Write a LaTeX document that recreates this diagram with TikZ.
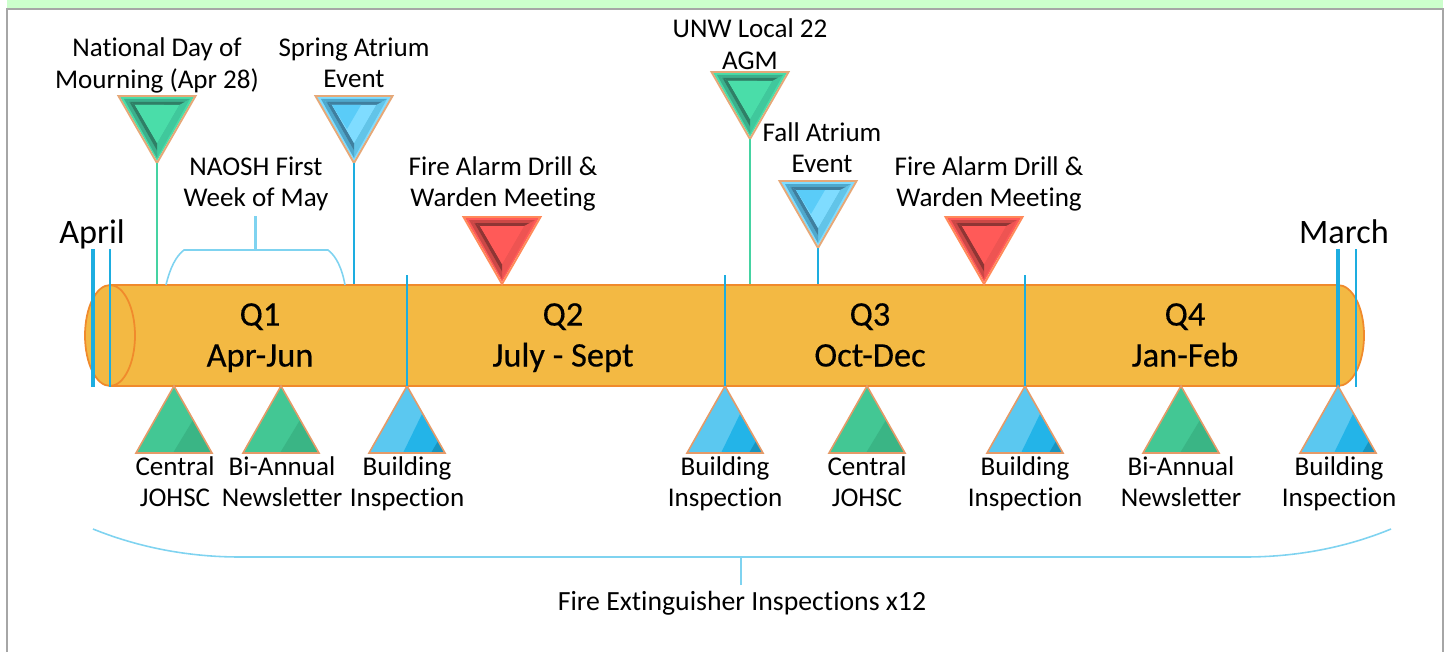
\documentclass[tikz,border=0pt]{standalone}
\usepackage{fontspec}
\setmainfont{Carlito}[Ligatures=NoCommon]
\newfontfamily\quarterfont{Carlito}[Ligatures=NoCommon, FakeBold=0.35]
\usetikzlibrary{shapes.geometric}
\definecolor{greenRim}{HTML}{4ADDA9}
\definecolor{greenDark}{HTML}{2F7F66}
\definecolor{greenMid}{HTML}{3CB08C}
\definecolor{greenSide}{HTML}{40C89C}
\definecolor{greenSpot}{HTML}{4ADDA9}
\definecolor{greenEdge}{HTML}{E5A878}
\definecolor{blueRim}{HTML}{7FDCFF}
\definecolor{blueDark}{HTML}{3F7F9F}
\definecolor{blueMid}{HTML}{4FA8CC}
\definecolor{blueSide}{HTML}{62C4E8}
\definecolor{blueSpot}{HTML}{5ACCF8}
\definecolor{blueEdge}{HTML}{E5A878}
\definecolor{redRim}{HTML}{FF5A58}
\definecolor{redDark}{HTML}{8F3534}
\definecolor{redMid}{HTML}{CC4846}
\definecolor{redSide}{HTML}{EE5452}
\definecolor{redSpot}{HTML}{FF5A58}
\definecolor{redEdge}{HTML}{FF8A5A}
\definecolor{greenUp}{HTML}{43C794}
\definecolor{greenUpDark}{HTML}{3AB585}
\definecolor{blueUp}{HTML}{5BC8F0}
\definecolor{blueUpMid}{HTML}{23B4E8}
\definecolor{blueUpDark}{HTML}{1795C0}
\definecolor{barFill}{HTML}{F3B943}
\definecolor{barLine}{HTML}{F08A2C}
\definecolor{triLine}{HTML}{E59A68}
\definecolor{tickBlue}{HTML}{1DADE0}
\definecolor{tickGreen}{HTML}{45D3A2}
\definecolor{braceBlue}{HTML}{7FD3F0}
\definecolor{frameGrey}{HTML}{A6A6A6}
\definecolor{bandGreen}{HTML}{CCFFCC}
\begin{document}
\begin{tikzpicture}[x=0.02cm, y=-0.02cm,
    strutStyle/.style={execute at begin node=\strut, execute at end node=\strut},
    labelStyle/.style={strutStyle, align=center, font=\fontsize{15.4}{18}\selectfont, inner sep=0pt},
    monthStyle/.style={strutStyle, font=\fontsize{19.5}{22}\selectfont, inner sep=0pt},
    quarterStyle/.style={strutStyle, align=center, font=\quarterfont\fontsize{19.6}{23.3}\selectfont, inner sep=0pt},
    barStyle/.style={rectangle, draw=barLine, fill=barFill, line width=1pt, minimum width=24.56cm, minimum height=2.02cm, inner sep=0pt},
    endStyle/.style={ellipse, draw=barLine, fill=barFill, line width=1pt, minimum width=1cm, minimum height=2.02cm, inner sep=0pt},
    tickThin/.style={draw=tickBlue, line width=1.15pt},
    tickThick/.style={draw=tickBlue, line width=1.8pt},
    tickEvent/.style={draw=tickGreen, line width=1.15pt},
    braceStyle/.style={draw=braceBlue, line width=0.9pt},
    downTri/.pic={
        \fill[#1Rim] (-37,1) -- (37,1) -- (0,65) -- cycle;
        \fill[#1Side] (33,3) -- (0,62) -- (0,47) -- (22,9) -- cycle;
        \fill[#1Mid] (-33,3) -- (0,62) -- (0,54.5) -- (-27.5,6) -- cycle;
        \fill[#1Dark] (-27.5,6) -- (0,54.5) -- (0,47) -- (-22,9) -- cycle;
        \fill[#1Mid] (-33,3) -- (33,3) -- (27.5,6) -- (-27.5,6) -- cycle;
        \fill[#1Dark] (-27.5,6) -- (27.5,6) -- (22,9) -- (-22,9) -- cycle;
        \fill[#1Rim] (-22,9) -- (22,9) -- (0,47) -- cycle;
        \fill[#1Spot] (-22,9) -- (7,9) -- (-7,33) -- cycle;
        \draw[#1Edge, line width=1.1pt] (-38.5,0) -- (38.5,0) -- (0,67) -- cycle;
        \coordinate (-tip) at (0,67);
    },
    upGreen/.pic={
        \fill[greenUp] (-38,67) -- (0,0) -- (38,67) -- cycle;
        \fill[greenUpDark] (-1,67) -- (19,34) -- (38,67) -- cycle;
        \draw[triLine, line width=0.9pt] (-38,67) -- (0,0) -- (38,67) -- cycle;
        \coordinate (-top) at (0,0);
    },
    upBlue/.pic={
        \fill[blueUp] (-38,67) -- (0,0) -- (38,67) -- cycle;
        \fill[blueUpMid] (-4,67) -- (15,28) -- (38,67) -- cycle;
        \fill[blueUpDark] (24,67) -- (31,55) -- (38,67) -- cycle;
        \draw[triLine, line width=0.9pt] (-38,67) -- (0,0) -- (38,67) -- cycle;
        \coordinate (-top) at (0,0);
    }]

\useasboundingbox (0,0) rectangle (1449,652);
\fill[bandGreen] (7,0) rectangle (1443,8);
\draw[frameGrey, line width=1.2pt] (7,652) -- (7,9) -- (1443,9) -- (1443,652);

\node[endStyle, minimum width=1.04cm] (barEndR) at (1338, 335.5) {};
\node[barStyle] (bar) at (724, 335.5) {};
\node[endStyle] (barEndL) at (110, 335.5) {};

\node[quarterStyle] (q1) at (260, 341) {Q1\\Apr-Jun};
\node[quarterStyle] (q2) at (563, 341) {Q2\\July - Sept};
\node[quarterStyle] (q3) at (870, 341) {Q3\\Oct-Dec};
\node[quarterStyle] (q4) at (1185, 341) {Q4\\Jan-Feb};

\node[monthStyle] (april) at (92, 236) {April};
\node[monthStyle] (march) at (1344, 236) {March};

\coordinate (aprilA) at (93, 249);
\coordinate (aprilB) at (110, 249);
\coordinate (marchA) at (1338, 249);
\coordinate (marchB) at (1356, 249);
\draw[tickThick] (aprilA) -- (aprilA |- bar.south);
\draw[tickThin] (aprilB) -- (aprilB |- bar.south);
\draw[tickThick] (marchA) -- (marchA |- bar.south);
\draw[tickThin] (marchB) -- (marchB |- bar.south);

\pic (natday) at (157, 96) {downTri=green};
\pic (spring) at (354, 96) {downTri=blue};
\pic (drillA) at (502, 217) {downTri=red};
\pic (unw) at (750, 72) {downTri=green};
\pic (fall) at (818, 181) {downTri=blue};
\pic (drillB) at (984, 217) {downTri=red};

\draw[tickEvent] (natday-tip) -- (natday-tip |- bar.north);
\draw[tickThin] (spring-tip) -- (spring-tip |- bar.north);
\draw[tickEvent] (unw-tip) -- (unw-tip |- bar.north);
\draw[tickThin] (fall-tip) -- (fall-tip |- bar.north);

\node[labelStyle] (natdayText) at (157, 67.6) {National Day of\\Mourning (Apr 28)};
\node[labelStyle] (springText) at (354, 67.6) {Spring Atrium\\Event};
\node[labelStyle] (naoshText) at (256, 186.5) {NAOSH First\\Week of May};
\node[labelStyle] (drillAText) at (503, 186.5) {Fire Alarm Drill \&\\Warden Meeting};
\node[labelStyle] (unwText) at (750, 48.6) {UNW Local 22\\AGM};
\node[labelStyle] (fallText) at (822, 152.5) {Fall Atrium\\Event};
\node[labelStyle] (drillBText) at (989, 186.5) {Fire Alarm Drill \&\\Warden Meeting};

\coordinate (naoshStem) at (255.5, 216);
\coordinate (naoshJoin) at (255.5, 250);
\coordinate (naoshL) at (166, 285);
\coordinate (naoshR) at (345, 285);
\draw[braceStyle, line width=1.2pt] (naoshStem) -- (naoshJoin);
\draw[braceStyle] (naoshL) .. controls (170, 268) and (176, 256) .. (184, 250) -- (naoshJoin) -- (328, 250) .. controls (336, 256) and (342, 268) .. (naoshR);

\pic (centralA) at (174, 386) {upGreen};
\pic (newsA) at (281, 386) {upGreen};
\pic (bldgA) at (407, 386) {upBlue};
\pic (bldgB) at (725, 386) {upBlue};
\pic (centralB) at (867, 386) {upGreen};
\pic (bldgC) at (1025, 386) {upBlue};
\pic (newsB) at (1181, 386) {upGreen};
\pic (bldgD) at (1338, 386) {upBlue};

\coordinate (bldgAEnd) at (407, 275);
\coordinate (bldgBEnd) at (725, 275);
\coordinate (bldgCEnd) at (1025, 275);
\draw[tickThin] (bldgAEnd) -- (bldgA-top);
\draw[tickThin] (bldgBEnd) -- (bldgB-top);
\draw[tickThin] (bldgCEnd) -- (bldgC-top);

\node[labelStyle] (centralAText) at (175, 486.5) {Central\\JOHSC};
\node[labelStyle] (newsAText) at (282, 486.5) {Bi-Annual\\Newsletter};
\node[labelStyle] (bldgAText) at (407, 486.5) {Building\\Inspection};
\node[labelStyle] (bldgBText) at (725, 486.5) {Building\\Inspection};
\node[labelStyle] (centralBText) at (867, 486.5) {Central\\JOHSC};
\node[labelStyle] (bldgCText) at (1025, 486.5) {Building\\Inspection};
\node[labelStyle] (newsBText) at (1181, 486.5) {Bi-Annual\\Newsletter};
\node[labelStyle] (bldgDText) at (1339, 486.5) {Building\\Inspection};

\coordinate (fireStem) at (741, 585);
\coordinate (fireJoin) at (741, 557);
\coordinate (fireL) at (93, 529);
\coordinate (fireR) at (1391, 529);
\draw[braceStyle, line width=1.2pt] (fireStem) -- (fireJoin);
\draw[braceStyle] (fireL) .. controls (140, 548) and (190, 557) .. (240, 557) -- (fireJoin) -- (1245, 557) .. controls (1295, 557) and (1345, 548) .. (fireR);
\node[labelStyle, font=\fontsize{15.8}{18}\selectfont] (fireText) at (742, 604.6) {Fire Extinguisher Inspections x12};
\end{tikzpicture}
\end{document}
